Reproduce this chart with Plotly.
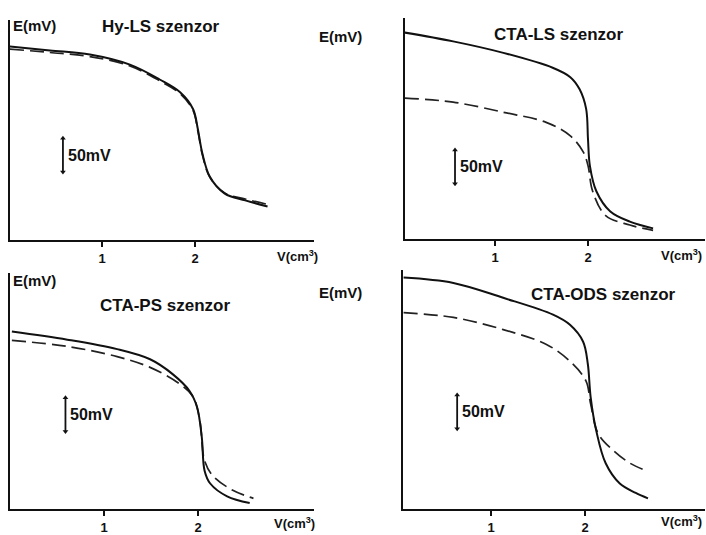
import plotly.graph_objects as go

W, H = 706, 535

# ---------------- data (V in cm3, E in mV relative to axis baseline) ----------------
hy_v_solid = [0.01, 0.44, 0.87, 1.30, 1.62, 1.84, 1.98, 2.03, 2.08, 2.16, 2.32, 2.54, 2.78]
hy_e_solid = [287, 281, 275, 260, 238, 219, 194, 165, 128, 94, 69, 59, 50]
hy_v_dash = [0.01, 0.44, 0.87, 1.30, 1.62, 1.84, 1.98, 2.03, 2.08, 2.16, 2.32, 2.54, 2.78]
hy_e_dash = [283, 278, 272, 258, 236, 217, 192, 162, 126, 93, 70, 61, 53]

ls_v_solid = [0.03, 0.55, 1.09, 1.62, 1.81, 1.91, 1.98, 2.00, 2.02, 2.09, 2.24, 2.45, 2.70]
ls_e_solid = [306, 293, 276, 254, 240, 222, 193, 148, 109, 71, 41, 26, 16]
ls_v_dash = [0.03, 0.55, 1.09, 1.55, 1.81, 1.95, 2.00, 2.05, 2.19, 2.45, 2.70]
ls_e_dash = [209, 203, 188, 173, 153, 129, 109, 71, 35, 21, 13]

ps_v_solid = [0.02, 0.61, 1.14, 1.49, 1.73, 1.91, 1.99, 2.04, 2.07, 2.13, 2.31, 2.55]
ps_e_solid = [263, 251, 237, 222, 200, 175, 151, 107, 57, 38, 19, 9]
ps_v_dash = [0.02, 0.61, 1.14, 1.49, 1.81, 1.95, 2.02, 2.07, 2.16, 2.37, 2.59]
ps_e_dash = [250, 241, 226, 210, 185, 166, 131, 72, 49, 28, 16]

ods_v_solid = [0.07, 0.60, 1.13, 1.66, 1.84, 1.98, 2.03, 2.06, 2.12, 2.22, 2.37, 2.54, 2.67]
ods_e_solid = [343, 335, 313, 288, 273, 248, 215, 166, 116, 68, 38, 24, 16]
ods_v_dash = [0.07, 0.60, 1.13, 1.59, 1.84, 2.01, 2.06, 2.14, 2.30, 2.48, 2.67]
ods_e_dash = [291, 284, 266, 244, 219, 190, 156, 112, 87, 68, 56]

titles = ["Hy-LS szenzor", "CTA-LS szenzor", "CTA-PS szenzor", "CTA-ODS szenzor"]
tick_vals = [1, 2]
tick_text = ["1", "2"]
scale_mv = 50

MV_PER_PX = 1.47

# panel geometry (pixels): axis left, right, x0 pixel, px per unit, bottom, top
panels = [
    dict(L=10, R=314, x0=9, ppu=93, B=242, T=20),
    dict(L=405, R=705, x0=402, ppu=93, B=241, T=18),
    dict(L=10, R=314, x0=10, ppu=94, B=513, T=275),
    dict(L=403, R=705, x0=397, ppu=94, B=513, T=272),
]
series = [
    (hy_v_solid, hy_e_solid, hy_v_dash, hy_e_dash),
    (ls_v_solid, ls_e_solid, ls_v_dash, ls_e_dash),
    (ps_v_solid, ps_e_solid, ps_v_dash, ps_e_dash),
    (ods_v_solid, ods_e_solid, ods_v_dash, ods_e_dash),
]
# scale bar anchor (V position, lower E)
scale_pos = [(0.58, 101), (0.57, 82), (0.59, 115), (0.64, 119)]

def px(x):
    return x / W

def py(y):
    return 1 - y / H

FONT = "Liberation Sans"

fig = go.Figure()
layout = dict(width=W, height=H, margin=dict(l=0, r=0, t=0, b=0),
              paper_bgcolor="white", plot_bgcolor="white", showlegend=False)
annotations = []

for i, (p, s) in enumerate(zip(panels, series)):
    n = "" if i == 0 else str(i + 1)
    xa, ya = "x" + n, "y" + n
    vs, es, vd, ed = s
    fig.add_trace(go.Scatter(x=vd, y=ed, mode="lines", xaxis=xa, yaxis=ya,
                             line=dict(color="#222", width=1.7, dash="14px,6px", shape="spline")))
    fig.add_trace(go.Scatter(x=vs, y=es, mode="lines", xaxis=xa, yaxis=ya,
                             line=dict(color="#111", width=2.0, shape="spline")))
    xr = [(p["L"] - p["x0"]) / p["ppu"], (p["R"] - p["x0"]) / p["ppu"]]
    yr = [0, (p["B"] - p["T"]) * MV_PER_PX]
    layout["xaxis" + n] = dict(domain=[px(p["L"]), px(p["R"])], range=xr, anchor=ya,
                               showline=True, linecolor="#111", linewidth=2,
                               showgrid=False, zeroline=False,
                               tickvals=tick_vals, ticktext=tick_text, ticks="outside",
                               ticklen=5, tickwidth=2, tickcolor="#111",
                               tickfont=dict(family=FONT, size=13, color="#111", weight="bold"))
    layout["yaxis" + n] = dict(domain=[py(p["B"]), py(p["T"])], range=yr, anchor=xa,
                               showline=True, linecolor="#111", linewidth=2,
                               showgrid=False, zeroline=False, showticklabels=False, ticks="")
    # scale bar (50 mV, drawn in data units)
    sx, sy = scale_pos[i]
    fig.add_trace(go.Scatter(x=[sx, sx], y=[sy, sy + scale_mv], mode="lines+markers",
                             xaxis=xa, yaxis=ya, line=dict(color="#111", width=1.8),
                             marker=dict(symbol=["triangle-down", "triangle-up"], size=5,
                                         color="#111")))
    annotations.append(dict(x=sx, y=sy + scale_mv / 2, xref=xa, yref=ya, text="<b>50mV</b>",
                            showarrow=False, xanchor="left", xshift=3,
                            font=dict(family=FONT, size=16, color="#111")))

# text labels (pixel positions converted to paper)
labels = [
    ("E(mV)", 11, 26), ("E(mV)", 317, 37),
    ("E(mV)", 11, 283), ("E(mV)", 317, 295),
]
for t, x, y in labels:
    annotations.append(dict(x=px(x), y=py(y), xref="paper", yref="paper", text="<b>" + t + "</b>",
                            showarrow=False, xanchor="left", yanchor="middle",
                            font=dict(family=FONT, size=15, color="#111")))
title_pos = [(161, 27), (558, 35), (165, 308), (603, 297)]
for t, (x, y) in zip(titles, title_pos):
    annotations.append(dict(x=px(x), y=py(y), xref="paper", yref="paper", text="<b>" + t + "</b>",
                            showarrow=False, xanchor="center", yanchor="middle",
                            font=dict(family=FONT, size=17, color="#111")))
vlab = [(320, 258), (704, 257), (317, 527), (704, 525)]
for x, y in vlab:
    annotations.append(dict(x=px(x), y=py(y), xref="paper", yref="paper",
                            text="<b>V(cm<sup>3</sup>)</b>", showarrow=False,
                            xanchor="right", yanchor="middle",
                            font=dict(family=FONT, size=13, color="#111")))

layout["annotations"] = annotations
fig.update_layout(**layout)
fig.write_html("out.html")
